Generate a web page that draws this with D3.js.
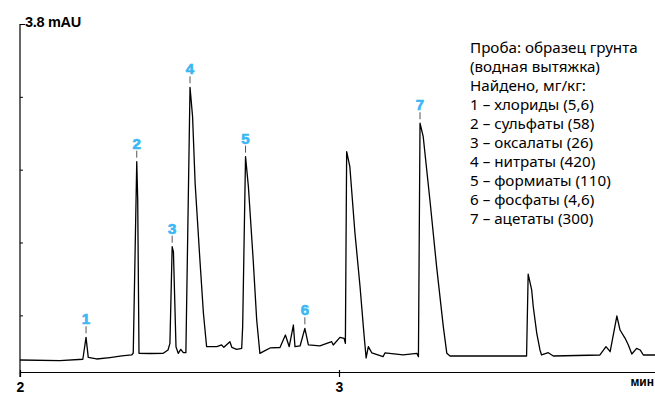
<!DOCTYPE html>
<html>
<head>
<meta charset="utf-8">
<script src="https://cdn.jsdelivr.net/npm/d3@7"></script>
<style>
  body { margin: 0; background: #fff; }
  .axis-label { font-family: "Liberation Sans", Arial, sans-serif; font-weight: bold; fill: #000; }
  .legend { font-family: "Noto Sans", sans-serif; font-size: 15.2px; fill: #000; }
  .peak-num { font-family: "Liberation Sans", Arial, sans-serif; font-weight: bold; font-size: 15px; fill: #3db7f2; stroke: #3db7f2; stroke-width: 0.7px; }
</style>
</head>
<body>
<div id="chart"></div>
<script>
// retention time, min
const times = [2.000, 2.125, 2.197, 2.207, 2.214, 2.240, 2.282, 2.319, 2.350, 2.355,
  2.366, 2.369, 2.373, 2.408, 2.449, 2.464, 2.470, 2.477, 2.481, 2.489,
  2.496, 2.504, 2.512, 2.520, 2.533, 2.541, 2.549, 2.564, 2.575, 2.585,
  2.617, 2.632, 2.639, 2.658, 2.664, 2.679, 2.695, 2.698, 2.707, 2.716,
  2.731, 2.742, 2.752, 2.768, 2.784, 2.815, 2.832, 2.844, 2.857, 2.862,
  2.878, 2.893, 2.904, 2.940, 2.977, 2.982, 3.003, 3.016, 3.020, 3.024,
  3.034, 3.050, 3.066, 3.078, 3.085, 3.092, 3.103, 3.138, 3.144, 3.201,
  3.244, 3.249, 3.254, 3.264, 3.285, 3.306, 3.327, 3.338, 3.348, 3.463,
  3.588, 3.593, 3.604, 3.609, 3.620, 3.630, 3.635, 3.656, 3.672, 3.818,
  3.837, 3.850, 3.871, 3.881, 3.897, 3.907, 3.918, 3.933, 3.944, 3.954,
  3.991];

// detector signal, mAU
const signal = [0.110, 0.104, 0.118, 0.359, 0.139, 0.121, 0.137, 0.154, 0.165, 0.187,
  2.288, 1.867, 0.183, 0.181, 0.183, 0.220, 0.293, 1.354, 1.296, 0.256,
  0.183, 0.227, 0.190, 0.190, 3.105, 2.782, 2.051, 1.208, 0.623, 0.256,
  0.256, 0.275, 0.249, 0.311, 0.249, 0.227, 0.238, 0.476, 2.343, 2.013,
  1.208, 0.549, 0.183, 0.212, 0.242, 0.247, 0.384, 0.256, 0.494, 0.256,
  0.264, 0.458, 0.275, 0.264, 0.311, 0.275, 0.359, 0.348, 0.293, 2.398,
  2.233, 1.505, 0.915, 0.406, 0.132, 0.256, 0.187, 0.146, 0.187, 0.165,
  0.183, 0.146, 2.710, 2.562, 1.867, 1.135, 0.476, 0.183, 0.154, 0.154,
  0.154, 1.054, 0.879, 0.695, 0.403, 0.220, 0.165, 0.190, 0.154, 0.165,
  0.256, 0.201, 0.593, 0.439, 0.348, 0.275, 0.176, 0.238, 0.220, 0.165,
  0.165];

const peakNums = ['1', '2', '3', '4', '5', '6', '7'];
const peakTimes = [2.207, 2.366, 2.477, 2.533, 2.707, 2.893, 3.254];

const xTicks = [2, 3];
const yTicks = [0.6, 1.4, 2.2, 3.0, 3.8];
const yTopLabel = '3.8 mAU';
const xUnit = 'мин';

const legendLines = [
  'Проба: образец грунта',
  '(водная вытяжка)',
  'Найдено, мг/кг:',
  '1 – хлориды (5,6)',
  '2 – сульфаты (58)',
  '3 – оксалаты (26)',
  '4 – нитраты (420)',
  '5 – формиаты (110)',
  '6 – фосфаты (4,6)',
  '7 – ацетаты (300)'
];

const width = 655, height = 394;
const x = d3.scaleLinear().domain([2, 4]).range([20, 658]);
const y = d3.scaleLinear().domain([0, 3.8]).range([370, 24]);
const axisY = 372;

const svg = d3.select('#chart').append('svg')
  .attr('width', width)
  .attr('height', height);

/* ---------- y axis ---------- */
svg.append('line')
  .attr('x1', x(2)).attr('x2', x(2))
  .attr('y1', y(3.8)).attr('y2', axisY + 5)
  .attr('stroke', '#000').attr('stroke-width', 1.2);

const yAxis = svg.append('g')
  .attr('transform', 'translate(' + x(2) + ',0)')
  .call(d3.axisRight(y).tickValues(yTicks).tickSize(3).tickSizeOuter(0).tickFormat(''));
yAxis.select('.domain').remove();
yAxis.selectAll('.tick line').attr('stroke', '#000');
yAxis.selectAll('.tick').filter(d => d === 3.8).select('line').attr('x2', 5);

svg.append('text')
  .attr('class', 'axis-label')
  .attr('x', x(2) + 5)
  .attr('y', y(3.8) + 3)
  .style('font-size', '14.5px')
  .style('letter-spacing', '-0.3px')
  .text(yTopLabel);

/* ---------- x axis ---------- */
const xAxis = svg.append('g')
  .attr('transform', 'translate(0,' + axisY + ')')
  .call(d3.axisBottom(x).tickValues(xTicks).tickSize(5).tickSizeOuter(0)
    .tickPadding(5).tickFormat(d3.format('d')));
xAxis.select('.domain').attr('stroke', '#000').attr('stroke-width', 1.2);
xAxis.selectAll('.tick line').attr('y1', -2).attr('stroke', '#000').attr('stroke-width', 1.2);
xAxis.selectAll('.tick text')
  .attr('class', 'axis-label')
  .style('font-size', '14px')
  .attr('fill', '#000');

svg.append('text')
  .attr('class', 'axis-label')
  .attr('x', 654)
  .attr('y', axisY + 14)
  .attr('text-anchor', 'end')
  .style('font-size', '12px')
  .text(xUnit);

/* ---------- trace ---------- */
const data = times.map((t, i) => ({ t: t, v: signal[i] }));
const line = d3.line().x(d => x(d.t)).y(d => y(d.v));

svg.append('path')
  .datum(data)
  .attr('d', line)
  .attr('fill', 'none')
  .attr('stroke', '#000')
  .attr('stroke-width', 1.3)
  .attr('stroke-linejoin', 'round');

/* ---------- peak labels ---------- */
const peaks = peakTimes.map((t, i) => {
  const near = data.filter(d => Math.abs(d.t - t) < 0.006);
  return { num: peakNums[i], t: t, v: d3.max(near, d => d.v) };
});

const pg = svg.append('g');
pg.selectAll('line')
  .data(peaks)
  .enter().append('line')
  .attr('x1', d => x(d.t)).attr('x2', d => x(d.t))
  .attr('y1', d => y(d.v) - 11).attr('y2', d => y(d.v) - 4)
  .attr('stroke', '#555').attr('stroke-width', 1);

pg.selectAll('text')
  .data(peaks)
  .enter().append('text')
  .attr('class', 'peak-num')
  .attr('x', d => x(d.t))
  .attr('y', d => y(d.v) - 13)
  .attr('text-anchor', 'middle')
  .text(d => d.num);

/* ---------- legend ---------- */
svg.append('g')
  .selectAll('text')
  .data(legendLines)
  .enter().append('text')
  .attr('class', 'legend')
  .attr('x', 470)
  .attr('y', (d, i) => 53 + i * 19)
  .text(d => d);
</script>
</body>
</html>
